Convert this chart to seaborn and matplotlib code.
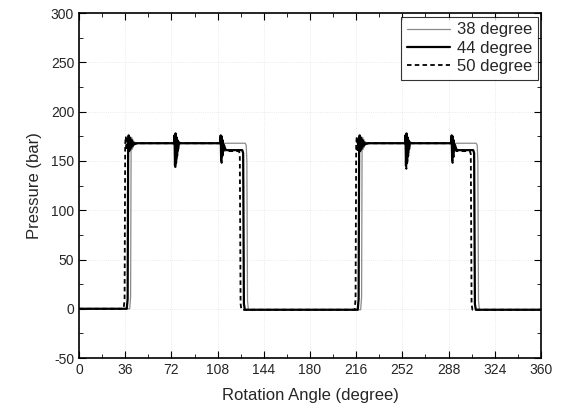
import numpy as np
import pandas as pd
import seaborn as sns
import matplotlib.pyplot as plt
from matplotlib.ticker import MultipleLocator

# Pressure traces (angle in degree, pressure in bar)
angle_38 = [0, 39.5, 40.2, 40.6, 41.0, 41.4, 41.8, 42.2, 42.6, 43.0, 43.6, 44.5, 46,
            74.2, 74.6, 75.0, 75.4, 75.8, 76.2, 76.6, 77.0, 77.6, 78.5, 80,
            110.2, 110.6, 111.0, 111.4, 111.8, 112.3, 112.8, 113.5, 129.5, 130.3, 130.8, 131.3, 132, 160,
            219.5, 220.2, 220.6, 221.0, 221.4, 221.8, 222.2, 222.6, 223.0, 223.6, 224.5, 226,
            254.2, 254.6, 255.0, 255.4, 255.8, 256.2, 256.6, 257.0, 257.6, 258.5, 260,
            290.2, 290.6, 291.0, 291.4, 291.8, 292.3, 292.8, 293.5, 309.5, 310.3, 310.8, 311.3, 312, 360]
p_38 = [0, 0, 12, 168, 174, 162, 172, 164, 170, 166, 169, 167, 168,
        168, 174, 152, 176, 154, 172, 160, 170, 164, 168, 168,
        168, 174, 156, 173, 160, 170, 164, 168, 168, 166, 150, 8, -1, -1,
        -1, 12, 168, 174, 162, 172, 164, 170, 166, 169, 167, 168,
        168, 174, 152, 176, 154, 172, 160, 170, 164, 168, 168,
        168, 174, 156, 173, 160, 170, 164, 168, 168, 166, 150, 8, -1, -1]

angle_44 = [0, 37.2, 37.9, 38.3, 38.7, 39.1, 39.5, 39.9, 40.3, 40.7, 41.1, 41.6, 42.2, 43.2, 45,
            74.0, 74.4, 74.8, 75.2, 75.6, 76.0, 76.4, 76.8, 77.2, 77.8, 79,
            110.0, 110.4, 110.8, 111.2, 111.6, 112.0, 112.5, 113.0, 114.0, 115,
            127.2, 127.9, 128.5, 129.2, 140,
            217.2, 217.9, 218.3, 218.7, 219.1, 219.5, 219.9, 220.3, 220.7, 221.1, 221.6, 222.2, 223.2, 225,
            254.0, 254.4, 254.8, 255.2, 255.6, 256.0, 256.4, 256.8, 257.2, 257.8, 259,
            290.0, 290.4, 290.8, 291.2, 291.6, 292.0, 292.5, 293.0, 294.0, 295,
            307.2, 307.9, 308.5, 309.2, 360]
p_44 = [0, 0, 10, 168, 176, 160, 174, 162, 172, 164, 171, 165, 169, 167, 168,
        168, 176, 145, 178, 148, 174, 155, 171, 162, 169, 168,
        168, 176, 150, 175, 155, 171, 161, 166, 162, 161,
        161, 158, 5, -1, -1,
        -1, 10, 168, 176, 160, 174, 162, 172, 164, 171, 165, 169, 167, 168,
        168, 176, 145, 178, 148, 174, 155, 171, 162, 169, 168,
        168, 176, 150, 175, 155, 171, 161, 166, 162, 161,
        161, 158, 5, -1, -1]

angle_50 = [0, 34.8, 35.5, 36.0, 36.5, 37.0, 37.5, 38.0, 38.6, 39.3, 40.2, 42,
            74.3, 74.7, 75.1, 75.5, 75.9, 76.3, 76.8, 77.4, 78.5,
            110.3, 110.7, 111.1, 111.5, 111.9, 112.4, 113.0, 114.0,
            124.6, 125.3, 125.9, 126.6, 140,
            214.8, 215.5, 216.0, 216.5, 217.0, 217.5, 218.0, 218.6, 219.3, 220.2, 222,
            254.3, 254.7, 255.1, 255.5, 255.9, 256.3, 256.8, 257.4, 258.5,
            290.3, 290.7, 291.1, 291.5, 291.9, 292.4, 293.0, 294.0,
            304.6, 305.3, 305.9, 306.6, 360]
p_50 = [0, 0, 10, 168, 175, 161, 172, 164, 170, 166, 168, 168,
        168, 172, 142, 174, 150, 170, 158, 168, 168,
        168, 173, 148, 172, 154, 168, 162, 160,
        160, 157, 5, -1, -1,
        -1, 10, 168, 175, 161, 172, 164, 170, 166, 168, 168,
        168, 172, 142, 174, 150, 170, 158, 168, 168,
        168, 173, 148, 172, 154, 168, 162, 160,
        160, 157, 5, -1, -1]

sns.set_style("ticks")
plt.rcParams['font.family'] = ['Liberation Sans', 'DejaVu Sans']
plt.rcParams['axes.unicode_minus'] = False

fig = plt.figure(figsize=(5.62, 4.12), dpi=100)
ax = fig.add_axes([0.1406, 0.131, 0.822, 0.837])

sns.lineplot(x=angle_38, y=p_38, ax=ax, color='#8a8a8a', lw=0.9,
             estimator=None, sort=False, label='38 degree')
sns.lineplot(x=angle_44, y=p_44, ax=ax, color='black', lw=1.6,
             estimator=None, sort=False, label='44 degree')
sns.lineplot(x=angle_50, y=p_50, ax=ax, color='black', lw=1.3,
             estimator=None, sort=False, label='50 degree', linestyle=(0, (2.5, 1.8)))

ax.set_xlim(0, 360)
ax.set_ylim(-50, 300)
ax.xaxis.set_major_locator(MultipleLocator(36))
ax.xaxis.set_minor_locator(MultipleLocator(18))
ax.yaxis.set_major_locator(MultipleLocator(50))
ax.yaxis.set_minor_locator(MultipleLocator(25))
ax.tick_params(which='both', direction='in', top=True, right=True, labelsize=10, color='black')
ax.tick_params(which='major', length=5)
ax.tick_params(which='minor', length=3)
ax.grid(True, which='major', color='#c8c8c8', linestyle=':', lw=0.6, alpha=0.5)
for s in ax.spines.values():
    s.set_color('black')
    s.set_linewidth(1.2)

ax.set_xlabel('Rotation Angle (degree)', fontsize=12, labelpad=8)
ax.set_ylabel('Pressure (bar)', fontsize=12, labelpad=6)

leg = ax.legend(loc='upper right', fontsize=12, frameon=True, fancybox=False,
                edgecolor='black', borderaxespad=0.2, handlelength=2.6,
                labelspacing=0.2, borderpad=0.35, handletextpad=0.4)
leg.get_frame().set_linewidth(0.8)

fig.savefig('out.png', dpi=100)
